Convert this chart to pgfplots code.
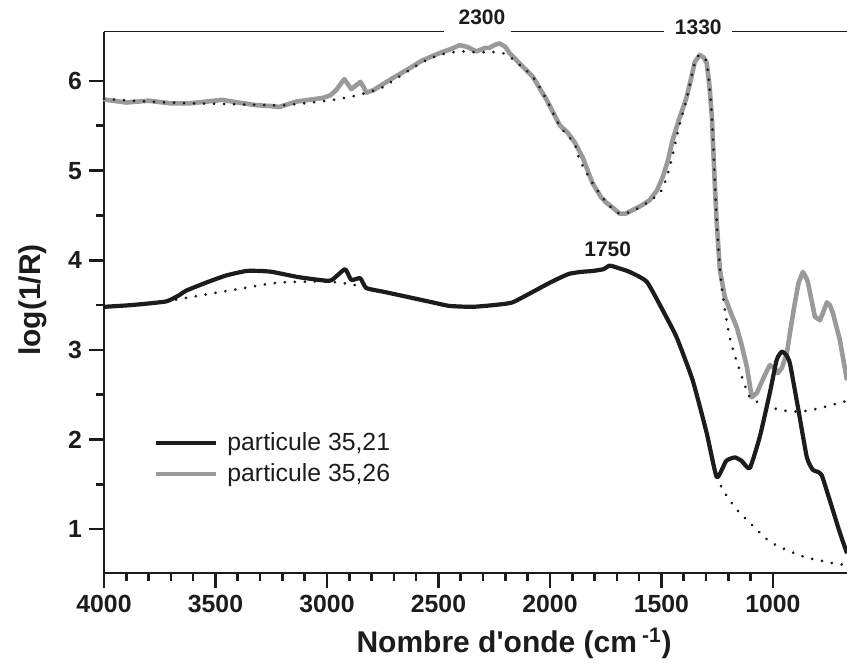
\documentclass[border=0pt]{standalone}
\usepackage{fontspec}
\setmainfont{Liberation Sans}
\usepackage{pgfplots}
\pgfplotsset{compat=1.18}

\definecolor{spgray}{HTML}{9A9A9A}
\definecolor{spblack}{HTML}{1C1C1C}

\begin{document}
\begin{tikzpicture}
\useasboundingbox (-52pt,-46.5pt) rectangle (371.5pt,286.5pt);
\begin{axis}[
    width=371.5pt, height=270.75pt,
    scale only axis,
    clip=false,
    x dir=reverse,
    xmin=668, xmax=4000,
    ymin=0.51, ymax=6.552,
    axis x line*=bottom,
    axis y line*=left,
    xtick align=outside,
    ytick align=outside,
    axis line style={line width=1.3pt, spblack},
    tick style={line width=1.3pt, spblack},
    major tick length=7.5pt,
    minor tick length=4pt,
    xtick={1000,1500,2000,2500,3000,3500,4000},
    minor x tick num=4,
    ytick={1,2,3,4,5,6},
    minor y tick num=1,
    /pgf/number format/assume math mode=true,
    /pgf/number format/set thousands separator={},
    ticklabel style={font=\fontsize{12.4}{14}\selectfont\bfseries, text=spblack},
    xlabel={Nombre d\textquotesingle onde (cm\,\textsuperscript{-1})},
    ylabel={log(1/R)},
    label style={font=\fontsize{15}{18}\selectfont\bfseries, text=spblack},
    xlabel style={at={(axis description cs:0.552,-0.1477)}, anchor=base},
    ylabel style={at={(axis description cs:-0.0956,0.504)}, anchor=center},
    legend style={at={(axis description cs:0.066,0.264)}, anchor=north west,
        draw=none, fill=none, inner sep=0pt, row sep=2.5pt,
        font=\fontsize{12.4}{14}\selectfont, text=spblack,
        nodes={inner sep=1.2pt},
        /tikz/every odd column/.append style={column sep=3.5pt}},
    legend cell align=left,
    reverse legend,
    legend image code/.code={\draw[#1] (0pt,0pt) -- (30pt,0pt);},
]
\addplot[spgray, line width=2.3pt, line join=round] coordinates {
(4000,5.80) (3991,5.79) (3900,5.76) (3800,5.78) (3700,5.75) (3618,5.75)
(3540,5.77) (3470,5.79) (3400,5.76) (3318,5.73) (3250,5.72) (3214,5.71)
(3138,5.77) (3080,5.79) (3021,5.81) (2985,5.84) (2958,5.90) (2935,5.98)
(2922,6.02) (2905,5.96) (2891,5.91) (2870,5.95) (2850,5.99) (2835,5.93)
(2823,5.87) (2790,5.90) (2752,5.96) (2700,6.04) (2644,6.12) (2572,6.23)
(2496,6.31) (2440,6.36) (2406,6.40) (2370,6.38) (2330,6.33) (2290,6.37)
(2271,6.37) (2250,6.40) (2226,6.42) (2200,6.38) (2181,6.31) (2130,6.18)
(2078,6.05) (2015,5.79) (1957,5.51) (1920,5.42) (1890,5.32) (1854,5.15)
(1809,4.86) (1770,4.70) (1746,4.64) (1720,4.59) (1688,4.52) (1660,4.52)
(1629,4.56) (1590,4.61) (1553,4.67) (1520,4.78) (1494,4.93) (1470,5.12)
(1450,5.34) (1420,5.58) (1387,5.82) (1365,6.05) (1351,6.21) (1328,6.29)
(1310,6.26) (1297,6.20) (1285,5.95) (1274,5.60) (1261,4.86) (1252,4.41)
(1238,3.89) (1216,3.59) (1190,3.42) (1162,3.25) (1140,3.05) (1117,2.81)
(1095,2.47) (1072,2.52) (1040,2.70) (1014,2.83) (995,2.80) (978,2.74)
(960,2.80) (938,2.96) (920,3.25) (902,3.52) (885,3.75) (866,3.87)
(850,3.80) (843,3.75) (812,3.37) (789,3.33) (770,3.45) (758,3.53)
(745,3.50) (731,3.41) (700,3.11) (668,2.66)
};
\addlegendentry{particule 35,26}
\addplot[spblack, line width=2.1pt, line join=round, smooth, tension=0.3] coordinates {
(4000,3.48) (3874,3.50) (3722,3.54) (3663,3.61) (3632,3.66) (3542,3.75)
(3452,3.83) (3362,3.88) (3300,3.88) (3246,3.87) (3124,3.81) (2990,3.77)
(2954,3.83) (2918,3.90) (2891,3.78) (2851,3.80) (2824,3.69) (2750,3.65)
(2675,3.61) (2527,3.53) (2451,3.49) (2348,3.48) (2250,3.50) (2168,3.53)
(2060,3.67) (2000,3.75) (1950,3.81) (1912,3.85) (1860,3.87) (1809,3.88)
(1760,3.90) (1732,3.94) (1690,3.91) (1643,3.87)
(1566,3.76) (1494,3.44) (1432,3.14) (1360,2.66) (1297,2.07) (1252,1.58)
(1210,1.76) (1171,1.80) (1140,1.76) (1104,1.68) (1059,2.03) (1014,2.52)
(983,2.89) (960,2.98) (940,2.94) (924,2.85) (888,2.36) (848,1.80)
(821,1.66) (800,1.64) (781,1.60) (745,1.32) (700,0.96) (668,0.73)
};
\addlegendentry{particule 35,21}
% baselines
\pgfplotsset{every axis plot/.append style={forget plot}}
\addplot[spblack, line width=1.5pt, line cap=round, dash pattern=on 0.01pt off 5pt, smooth, tension=0.4] coordinates {
(4000,5.80) (3800,5.77) (3600,5.75) (3400,5.74) (3200,5.73) (3000,5.78)
(2900,5.82) (2820,5.87) (2750,5.93) (2644,6.10) (2572,6.21) (2496,6.29)
(2406,6.33) (2330,6.32) (2226,6.32) (2181,6.27) (2078,6.05) (2015,5.79)
(1957,5.50) (1890,5.30) (1867,5.12) (1809,4.86) (1746,4.64) (1688,4.52)
(1629,4.55) (1553,4.66) (1499,4.78) (1463,5.04) (1420,5.50) (1387,5.80)
(1351,6.20) (1328,6.29) (1297,6.20) (1274,5.60) (1252,4.41) (1230,3.70)
(1194,3.14) (1149,2.77) (1104,2.47) (1059,2.41) (969,2.33) (879,2.31)
(789,2.35) (700,2.41) (668,2.43)
};
\addplot[spblack, line width=1.5pt, line cap=round, dash pattern=on 0.01pt off 5pt, smooth] coordinates {
(3677,3.56) (3560,3.61) (3394,3.68) (3214,3.75) (2990,3.76) (2869,3.72)
};
\addplot[spblack, line width=1.5pt, line cap=round, dash pattern=on 0.01pt off 5pt, smooth] coordinates {
(1252,1.58) (1225,1.44) (1185,1.29) (1149,1.18) (1104,1.07) (1059,0.96)
(1014,0.86) (960,0.79) (902,0.73) (848,0.68) (789,0.65) (731,0.62)
(677,0.60) (668,0.59)
};
% top rule with peak labels
\draw[line width=0.7pt, spblack] (axis cs:4000,6.552) -- (axis cs:2473,6.552);
\draw[line width=0.7pt, spblack] (axis cs:2177,6.552) -- (axis cs:1490,6.552);
\draw[line width=0.7pt, spblack] (axis cs:1185,6.552) -- (axis cs:668,6.552);
\node[font=\fontsize{10.5}{12}\selectfont\bfseries, text=spblack] at (axis cs:2305,6.71) {2300};
\node[font=\fontsize{10.5}{12}\selectfont\bfseries, text=spblack] at (axis cs:1335,6.6) {1330};
\node[font=\fontsize{10.5}{12}\selectfont\bfseries, text=spblack] at (axis cs:1741,4.125) {1750};
\end{axis}
\end{tikzpicture}
\end{document}
